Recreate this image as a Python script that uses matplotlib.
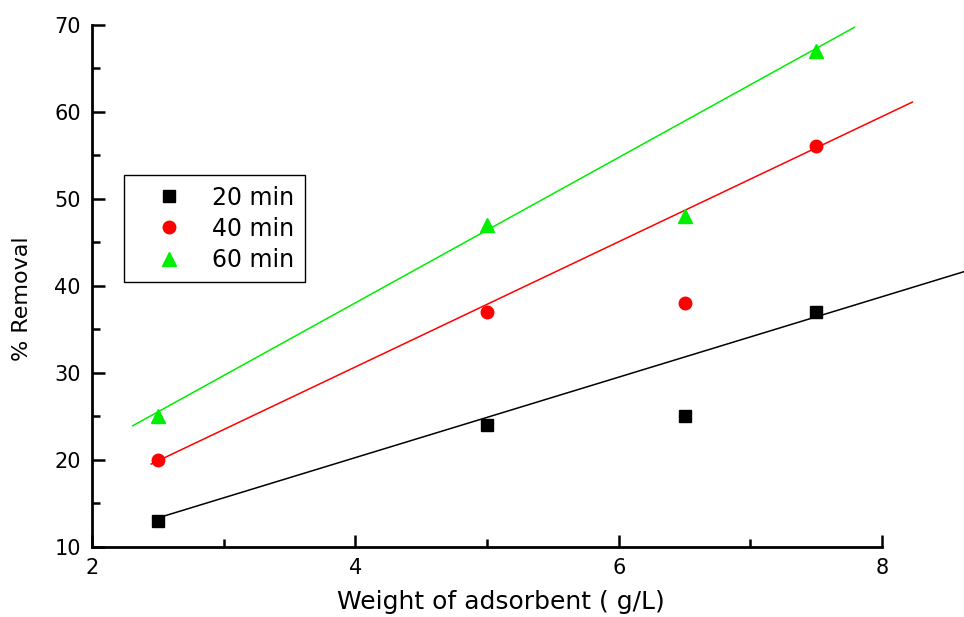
import matplotlib
matplotlib.use("Agg")
import matplotlib.pyplot as plt

# Data
dose = [2.5, 5.0, 6.5, 7.5]
removal_20 = [13, 24, 25, 37]
removal_40 = [20, 37, 38, 56]
removal_60 = [25, 47, 48, 67]
labels = ["20 min", "40 min", "60 min"]

# Fitted straight lines (end points as drawn)
line20_x = [2.5, 8.62]
line20_y = [13.3, 41.6]
line40_x = [2.45, 8.23]
line40_y = [19.5, 61.1]
line60_x = [2.31, 7.79]
line60_y = [23.9, 69.7]

xticks = [2, 4, 6, 8]
yticks = [10, 20, 30, 40, 50, 60, 70]

plt.rcParams['font.family'] = ['DejaVu Sans']

fig = plt.figure(figsize=(9.64, 6.17), dpi=100)
ax = fig.add_axes([0.0954, 0.114, 0.915 - 0.0954, 0.96 - 0.114])

ax.plot(line20_x, line20_y, color='black', lw=1.1, clip_on=False, zorder=2)
ax.plot(line40_x, line40_y, color='#ff0000', lw=1.1, clip_on=False, zorder=2)
ax.plot(line60_x, line60_y, color='#00ee00', lw=1.1, clip_on=False, zorder=2)

ax.plot(dose, removal_20, 's', color='black', ms=8.5, ls='none', label=labels[0], clip_on=False, zorder=3)
ax.plot(dose, removal_40, 'o', color='#ff0000', ms=9, ls='none', label=labels[1], clip_on=False, zorder=3)
ax.plot(dose, removal_60, '^', color='#00ee00', ms=10, ls='none', label=labels[2], clip_on=False, zorder=3)

ax.set_xlim(2, 8)
ax.set_ylim(10, 70)
ax.set_xticks(xticks)
ax.set_yticks(yticks)
ax.set_xticks([3, 5, 7], minor=True)
ax.set_yticks([15, 25, 35, 45, 55, 65], minor=True)

for s in ['top', 'right']:
    ax.spines[s].set_visible(False)
for s in ['left', 'bottom']:
    ax.spines[s].set_linewidth(2)

ax.tick_params(which='major', direction='in', length=9, width=1.8, labelsize=15, pad=8)
ax.tick_params(which='minor', direction='in', length=5.5, width=1.8)

ax.set_xlabel("Weight of adsorbent ( g/L)", fontsize=18)
ax.set_ylabel("% Removal", fontsize=16)
ax.xaxis.set_label_coords(0.518, -0.083)
ax.yaxis.set_label_coords(-0.076, 0.476)

leg = ax.legend(loc='upper left', bbox_to_anchor=(0.0405, 0.712), fontsize=17,
                frameon=True, fancybox=False, edgecolor='black', framealpha=1,
                handlelength=2.9, handletextpad=0.38, borderpad=0.45,
                labelspacing=0.3, borderaxespad=0)
leg.get_frame().set_linewidth(1.0)

fig.savefig("out.png", dpi=100)
